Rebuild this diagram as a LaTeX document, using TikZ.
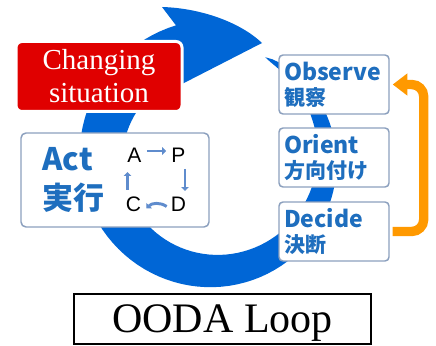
\documentclass[tikz,border=0pt]{standalone}
\usepackage{fontspec}
\setmainfont{Liberation Serif}
\setsansfont{Liberation Sans}
\newfontfamily\jpfont{Noto Sans CJK JP}
\usepackage{tikz}
\usetikzlibrary{calc}
\usetikzlibrary{arrows.meta}
\definecolor{ringblue}{RGB}{0,102,214}
\definecolor{labelblue}{RGB}{30,110,190}
\definecolor{boxgray}{RGB}{140,160,190}
\definecolor{alertred}{RGB}{224,0,0}
\definecolor{looporange}{RGB}{255,153,0}
\definecolor{pdcablue}{RGB}{95,140,205}
\tikzset{
alertbox/.style={fill=alertred,draw=white,line width=2.25pt,rounded corners=4.5pt,
  minimum width=124.5pt,minimum height=52.5pt,text=white,align=center,
  font=\fontsize{21.75}{24.75}\selectfont},
actbox/.style={draw=boxgray,fill=white,line width=1.1pt,rounded corners=3.75pt,
  minimum width=141pt,minimum height=70.5pt},
oodabox/.style={draw=boxgray,fill=white,line width=1.1pt,rounded corners=3pt,
  minimum width=82.5pt,minimum height=44.25pt,text width=75pt,inner xsep=3.75pt,
  align=left,text=labelblue,font=\jpfont\bfseries\fontsize{17.25}{18.75}\selectfont},
pdcaletter/.style={inner sep=0pt,font=\sffamily\fontsize{15.75}{15.75}\selectfont},
pdcaarrow/.style={pdcablue,line width=2.2pt,-{Triangle[length=3pt,width=5.5pt]}},
orangeflow/.style={looporange,line width=7pt,rounded corners=9pt,
  -{Triangle[length=11pt,width=16pt]}}
}
\begin{document}
\begin{tikzpicture}[x=0.75pt,y=-0.75pt]
\useasboundingbox (0,0) rectangle (436,346);
%ring
\fill[ringblue] plot[domain=-63:254,samples=90,variable=\t]
  ({214+(113+25*((\t+63.01)/317.01)^0.6)*cos(\t)},{158+(113+25*((\t+63.01)/317.01)^0.6)*sin(\t)})
  -- (162,7) .. controls (200,8) and (240,22) .. (262,43) -- (182,84)
  -- plot[domain=246:-63,samples=90,variable=\t]
  ({214+(113-25*((\t+63.01)/317.01)^0.6)*cos(\t)},{158+(113-25*((\t+63.01)/317.01)^0.6)*sin(\t)})
  -- cycle;
%changing situation
\node[alertbox] (change) at (99,76.5) {Changing\\situation};
%act
\node[actbox] (act) at (115,180) {};
\node[anchor=west,inner sep=0pt,text=labelblue,align=left,
  font=\jpfont\bfseries\fontsize{23.25}{29.25}\selectfont] (acttext) at (42,180) {Act\\実行};
\node[pdcaletter] (pA) at (134.5,155.5) {A};
\node[pdcaletter] (pP) at (178.5,155.5) {P};
\node[pdcaletter] (pC) at (133.5,204.5) {C};
\node[pdcaletter] (pD) at (178.5,204.5) {D};
\draw[pdcaarrow] ($(pA.east)+(5,-4.5)$) -- ($(pP.west)+(-5,-4.5)$);
\draw[pdcaarrow] ($(pP.south)+(6.5,6)$) -- ($(pD.north)+(6.5,-6)$);
\draw[pdcaarrow] ($(pD.west)+(-4,2)$) to[bend right=40] ($(pC.east)+(5,4)$);
\draw[pdcaarrow] ($(pC.north)+(-6,-7)$) -- ($(pA.south)+(-7,9)$);
%ooda
\node[oodabox] (observe) at (334,84.5) {Observe\\{\fontsize{15.75}{18.75}\selectfont 観察}};
\node[oodabox] (orient) at (334,157.5) {Orient\\{\fontsize{15.75}{18.75}\selectfont 方向付け}};
\node[oodabox] (decide) at (334,231.5) {Decide\\{\fontsize{15.75}{18.75}\selectfont 決断}};
\draw[orangeflow] ($(decide.east)+(3,0)$) -- ++(31,0) |- ($(observe.east)+(3,0)$);
%title
\node[draw=black,line width=1.5pt,minimum width=222.75pt,minimum height=37.5pt,
  inner sep=0pt,text depth=0pt,font=\fontsize{31.5}{31.5}\selectfont] (title) at (222.5,319) {OODA Loop};
\end{tikzpicture}
\end{document}
